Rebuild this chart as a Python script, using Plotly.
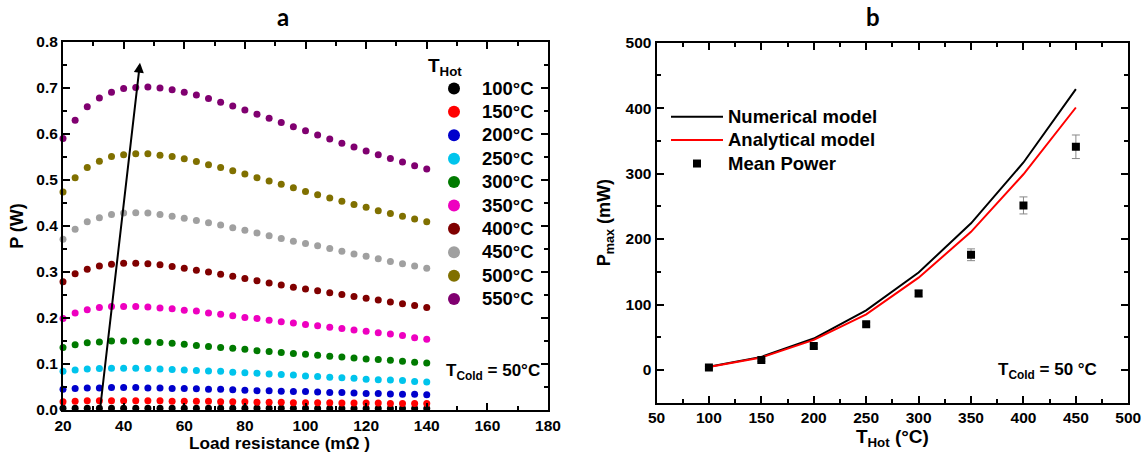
import plotly.graph_objects as go

# ---------------- Panel a data ----------------
load_res = [20, 24, 28, 32, 36, 40, 44, 48, 52, 56, 60, 64, 68, 72, 76, 80,
            84, 88, 92, 96, 100, 104, 108, 112, 116, 120, 124, 128, 132, 136, 140]

p100 = [0.004, 0.004, 0.004, 0.004, 0.004, 0.004, 0.004, 0.004, 0.004, 0.004, 0.004,
        0.004, 0.004, 0.004, 0.004, 0.004, 0.004, 0.004, 0.004, 0.004, 0.004, 0.003,
        0.003, 0.003, 0.003, 0.003, 0.003, 0.003, 0.003, 0.003, 0.003]
p150 = [0.018, 0.019, 0.020, 0.020, 0.020, 0.020, 0.020, 0.020, 0.020, 0.019, 0.019,
        0.019, 0.019, 0.018, 0.018, 0.018, 0.017, 0.017, 0.017, 0.016, 0.016, 0.016,
        0.016, 0.015, 0.015, 0.015, 0.015, 0.014, 0.014, 0.014, 0.014]
p200 = [0.045, 0.047, 0.048, 0.048, 0.049, 0.049, 0.049, 0.048, 0.048, 0.047, 0.047,
        0.046, 0.045, 0.045, 0.044, 0.043, 0.042, 0.042, 0.041, 0.040, 0.040, 0.039,
        0.038, 0.038, 0.037, 0.036, 0.036, 0.035, 0.034, 0.034, 0.033]
p250 = [0.084, 0.087, 0.089, 0.090, 0.091, 0.091, 0.091, 0.090, 0.089, 0.088, 0.087,
        0.086, 0.085, 0.084, 0.082, 0.081, 0.080, 0.078, 0.077, 0.076, 0.074, 0.073,
        0.071, 0.070, 0.069, 0.067, 0.066, 0.065, 0.064, 0.062, 0.061]
p300 = [0.136, 0.142, 0.146, 0.148, 0.150, 0.150, 0.150, 0.148, 0.147, 0.145, 0.143,
        0.140, 0.138, 0.136, 0.134, 0.132, 0.129, 0.127, 0.125, 0.123, 0.121, 0.119,
        0.117, 0.115, 0.113, 0.111, 0.110, 0.108, 0.106, 0.104, 0.102]
p350 = [0.199, 0.211, 0.218, 0.223, 0.225, 0.225, 0.225, 0.224, 0.222, 0.220, 0.217,
        0.215, 0.211, 0.208, 0.205, 0.201, 0.199, 0.195, 0.192, 0.189, 0.186, 0.183,
        0.180, 0.177, 0.174, 0.171, 0.168, 0.165, 0.162, 0.157, 0.154]
p400 = [0.279, 0.296, 0.306, 0.313, 0.317, 0.319, 0.319, 0.318, 0.316, 0.312, 0.308,
        0.304, 0.300, 0.295, 0.291, 0.286, 0.281, 0.276, 0.272, 0.267, 0.263, 0.259,
        0.255, 0.251, 0.247, 0.243, 0.239, 0.235, 0.231, 0.227, 0.223]
p450 = [0.371, 0.393, 0.409, 0.418, 0.425, 0.428, 0.429, 0.428, 0.425, 0.421, 0.417,
        0.412, 0.407, 0.402, 0.396, 0.391, 0.385, 0.379, 0.373, 0.367, 0.362, 0.357,
        0.351, 0.345, 0.339, 0.334, 0.329, 0.323, 0.318, 0.313, 0.308]
p500 = [0.474, 0.505, 0.527, 0.541, 0.551, 0.555, 0.557, 0.557, 0.554, 0.551, 0.546,
        0.540, 0.533, 0.527, 0.520, 0.513, 0.505, 0.498, 0.491, 0.483, 0.475, 0.468,
        0.461, 0.454, 0.447, 0.441, 0.433, 0.427, 0.421, 0.415, 0.409]
p550 = [0.590, 0.630, 0.659, 0.678, 0.691, 0.699, 0.701, 0.702, 0.700, 0.696, 0.691,
        0.685, 0.677, 0.669, 0.661, 0.652, 0.643, 0.634, 0.625, 0.616, 0.607, 0.598,
        0.589, 0.580, 0.572, 0.563, 0.555, 0.547, 0.539, 0.531, 0.524]

series_names = ["100°C", "150°C", "200°C", "250°C", "300°C",
                "350°C", "400°C", "450°C", "500°C", "550°C"]
series_values = [p100, p150, p200, p250, p300, p350, p400, p450, p500, p550]
series_colors = ["#000000", "#FF0000", "#0000CC", "#00C4EC", "#007A00",
                 "#EE00C0", "#800000", "#A0A0A0", "#807000", "#800070"]

# Arrow (trend of the maxima) in data coordinates: tail and head
arrow_tail = (32.2, 0.0)
arrow_head = (45.4, 0.755)

# ---------------- Panel b data ----------------
t_hot = [100, 150, 200, 250, 300, 350, 400, 450]
numerical = [5, 20, 48, 91, 149, 224, 317, 429]
analytical = [4.5, 19, 46, 85, 141, 211, 299, 401]
mean_power = [3.6, 15.2, 36.5, 70, 117, 176, 251.4, 341]
mean_err = [2, 2, 3, 3, 5, 9, 13, 18]

FONT = "Liberation Sans"
W, H = 1148, 454


def big(txt, px):
    return "<span style='font-size:%.1fpx'>%s</span>" % (px, txt)


fig = go.Figure()

for name, vals, col in zip(series_names, series_values, series_colors):
    fig.add_trace(go.Scatter(
        x=load_res, y=vals, mode="markers", name=big(name, 18.5),
        marker=dict(color=col, size=7, line=dict(width=0)),
        cliponaxis=False, xaxis="x", yaxis="y", legend="legend"))

fig.add_trace(go.Scatter(
    x=t_hot, y=numerical, mode="lines", name=big("Numerical model", 18.5),
    line=dict(color="black", width=2), xaxis="x2", yaxis="y2", legend="legend2"))
fig.add_trace(go.Scatter(
    x=t_hot, y=analytical, mode="lines", name=big("Analytical model", 18.5),
    line=dict(color="#FF0000", width=2), xaxis="x2", yaxis="y2", legend="legend2"))
fig.add_trace(go.Scatter(
    x=t_hot, y=mean_power, mode="markers", name=big("Mean Power", 18.5),
    marker=dict(color="black", size=8, symbol="square"),
    error_y=dict(type="data", array=mean_err, color="#888888", thickness=1, width=4),
    xaxis="x2", yaxis="y2", legend="legend2"))

tickfont = dict(family=FONT, size=15.5, color="black", weight="bold")
titlefont = dict(family=FONT, size=18, color="black", weight="bold")

def axis_common():
    return dict(showline=True, linecolor="black", linewidth=2, mirror="ticks",
                ticks="inside", ticklen=7, tickwidth=1.5, tickcolor="black",
                showgrid=False, zeroline=False, tickfont=tickfont, automargin=False)

ax_x = axis_common()
ax_x.update(domain=[63 / W, 548 / W], range=[20, 180], tickmode="linear", tick0=20, dtick=20,
            minor=dict(ticks="inside", ticklen=4, dtick=10, tickcolor="black"),
            anchor="y")
ax_y = axis_common()
ax_y.update(domain=[1 - 410 / H, 1 - 42 / H], range=[0, 0.8], tickmode="linear", tick0=0, dtick=0.1,
            tickformat=".1f",
            minor=dict(ticks="inside", ticklen=4, dtick=0.05, tickcolor="black"),
            title=dict(text="P (W)", font=titlefont, standoff=8),
            anchor="x")
ax_x2 = axis_common()
ax_x2.update(domain=[656.5 / W, 1128.3 / W], range=[50, 500], tickmode="linear", tick0=50, dtick=50,
             minor=dict(ticks="inside", ticklen=4, dtick=25, tickcolor="black"),
             title=dict(text="T<sub>Hot</sub> (°C)", font=dict(family=FONT, size=19, color="black",
                                                               weight="bold"), standoff=4),
             anchor="y2")
ax_y2 = axis_common()
ax_y2.update(domain=[1 - 402.7 / H, 1 - 42.7 / H], range=[-50, 500], tickmode="linear", tick0=0,
             dtick=100,
             minor=dict(ticks="inside", ticklen=4, dtick=50, tickcolor="black"),
             title=dict(text="P<sub>max</sub> (mW)", font=titlefont, standoff=10),
             anchor="x2")

fig.update_layout(
    width=W, height=H, margin=dict(l=0, r=0, t=0, b=0, autoexpand=False),
    paper_bgcolor="white", plot_bgcolor="white",
    xaxis=ax_x, yaxis=ax_y, xaxis2=ax_x2, yaxis2=ax_y2,
    legend=dict(x=426 / W, y=1 - 47 / H, xanchor="left", yanchor="top",
                bgcolor="rgba(0,0,0,0)", itemsizing="constant", itemwidth=46,
                font=dict(family=FONT, size=15.7, color="black", weight="bold"),
                title=dict(text="T<sub>Hot</sub>", side="top",
                           font=dict(family=FONT, size=19, color="black", weight="bold"))),
    legend2=dict(x=666 / W, y=1 - 100 / H, xanchor="left", yanchor="top",
                 bgcolor="rgba(0,0,0,0)", itemwidth=52,
                 font=dict(family=FONT, size=15.7, color="black", weight="bold")),
    showlegend=True,
)

fig.add_annotation(x=arrow_head[0], y=arrow_head[1], ax=arrow_tail[0], ay=arrow_tail[1],
                   xref="x", yref="y", axref="x", ayref="y", showarrow=True,
                   arrowhead=2, arrowsize=1, arrowwidth=2, arrowcolor="black", text="")

fig.add_annotation(x=279.5 / W, y=1 - 443 / H, xref="paper", yref="paper", showarrow=False,
                   xanchor="center", yanchor="middle", text="Load resistance (mΩ )",
                   borderpad=0,
                   font=dict(family=FONT, size=17.2, color="black", weight="bold"))

fig.add_annotation(x=283 / W, y=1 - 17 / H, xref="paper", yref="paper", showarrow=False,
                   xanchor="center", yanchor="middle",
                   text="a", font=dict(family="Lato", size=24, color="black", weight="bold"))
fig.add_annotation(x=873 / W, y=1 - 17 / H, xref="paper", yref="paper", showarrow=False,
                   xanchor="center", yanchor="middle",
                   text="b", font=dict(family="Lato", size=24, color="black", weight="bold"))

fig.add_annotation(x=542 / W, y=1 - 372 / H, xref="paper", yref="paper", showarrow=False,
                   xanchor="right", yanchor="middle", text="T<sub>Cold</sub> = 50°C",
                   font=dict(family=FONT, size=17, color="black", weight="bold"))
fig.add_annotation(x=1099 / W, y=1 - 371 / H, xref="paper", yref="paper", showarrow=False,
                   xanchor="right", yanchor="middle", text="T<sub>Cold</sub> = 50 °C",
                   font=dict(family=FONT, size=17, color="black", weight="bold"))

fig.write_html("out.html", config={"displayModeBar": False},
               post_script="document.body.style.margin='0';")
